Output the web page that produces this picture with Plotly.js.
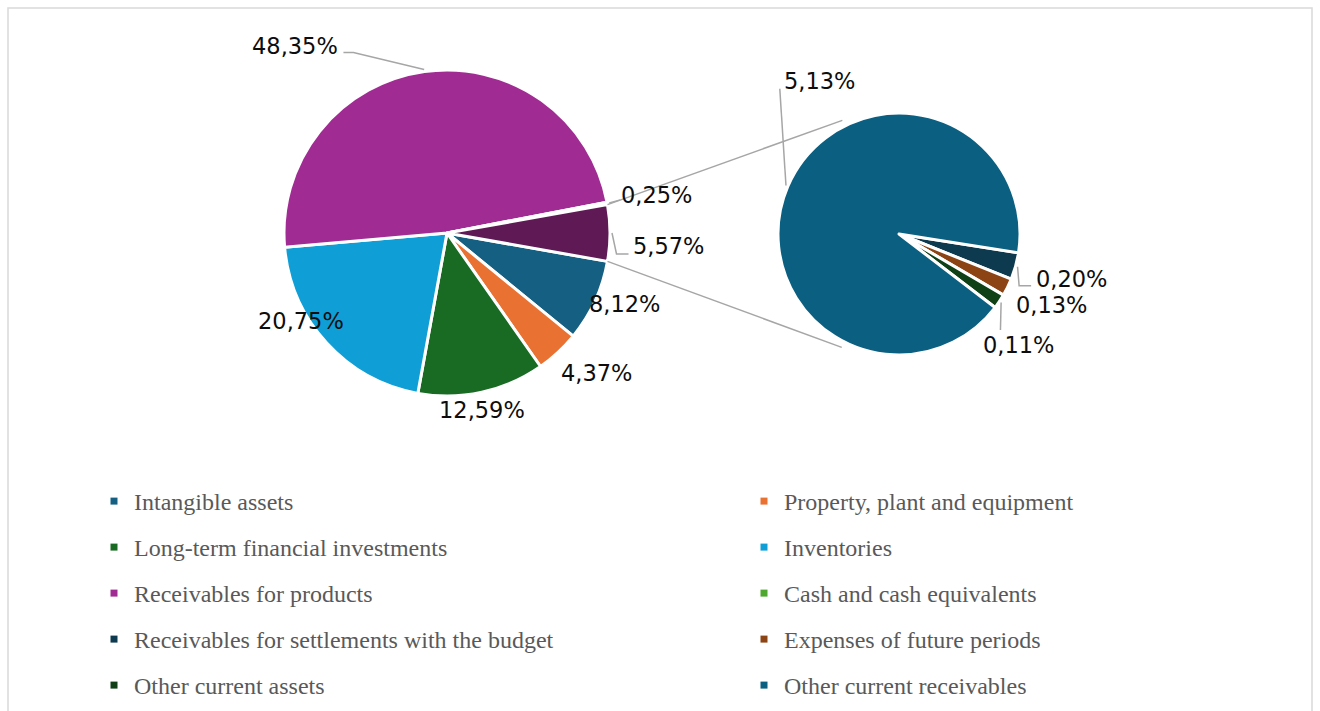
<!DOCTYPE html>
<html><head><meta charset="utf-8">
<script src="https://cdn.plot.ly/plotly-3.0.1.min.js"></script>
<style>html,body{margin:0;padding:0;background:#fff}</style>
</head><body><div id="chart" style="width:1320px;height:711px"></div>
<script>
// ---------- data ----------
const mainLabels = ['Intangible assets','Property, plant and equipment','Long-term financial investments','Inventories','Receivables for products','Cash and cash equivalents','Other'];
const mainValues = [8.12, 4.37, 12.59, 20.75, 48.35, 0.25, 5.57];
const subLabels = ['Receivables for settlements with the budget','Expenses of future periods','Other current assets','Other current receivables'];
const subValues = [0.20, 0.13, 0.11, 5.13];
const legendLabels = ['Intangible assets','Property, plant and equipment','Long-term financial investments','Inventories','Receivables for products','Cash and cash equivalents','Receivables for settlements with the budget','Expenses of future periods','Other current assets','Other current receivables'];

// ---------- styles ----------
const colorMap = {
  'Intangible assets':'#156082',
  'Property, plant and equipment':'#E97132',
  'Long-term financial investments':'#196B24',
  'Inventories':'#0F9ED5',
  'Receivables for products':'#A02B93',
  'Cash and cash equivalents':'#4EA72E',
  'Other':'#5F1A56',
  'Receivables for settlements with the budget':'#0D3A4E',
  'Expenses of future periods':'#8C4414',
  'Other current assets':'#0F4016',
  'Other current receivables':'#0B5F80'
};
const W = 1320, H = 711;
const P1 = {cx:447, cy:233, r:163};
const P2 = {cx:899, cy:234, r:121};
const SUB_START = 99;             // angle where second pie's first slice starts
const CONNECT_ANGLES = [333.5, 206.8]; // where connector lines meet the second pie
const LINE_GREY = '#A6A6A6';
const LABEL_FONT = {family:'DejaVu Sans', size:22.5, color:'#0D0D0D'};
// label offsets (px) from each slice's outer edge at its mid angle, and leader elbows relative to label centre
const mainLabelOff = [[29,3.5],[39,20.5],[0,18],[-26,-22],[-129,-26],[49,-8.5],[58.5,13]];
const mainLeader = [null,null,null,null,[[58,7],[48,7]],[[-36,5]],[[-52,8],[-40,8]]];
const subLabelOff = [[55.5,13],[43.5,18],[19,43.5],[32,-105]];
const subLeader = [[[-52,6.5],[-40,6.5]],null,[[-18,-15]],[[-40,7.5]]];

const fmt = v => v.toFixed(2).replace('.', ',') + '%';
const sum = a => a.reduce((s,v)=>s+v,0);
function dom(p){return {x:[(p.cx-p.r)/W,(p.cx+p.r)/W], y:[1-(p.cy+p.r)/H, 1-(p.cy-p.r)/H]};}
function angles(values, rot){
  const tot = sum(values); let a = rot;
  return values.map(v=>{const s=a; a+=v/tot*360; return {s:s, e:a, m:(s+a)/2};});
}
function pt(p, ang, dr){const t=ang*Math.PI/180; const rr=p.r+(dr||0); return [p.cx+rr*Math.sin(t), p.cy-rr*Math.cos(t)];}

// main pie rotation: "Other" slice centred at 3 o'clock
const oIdx = mainValues.length-1;
const mTot = sum(mainValues);
let rot1 = 90 - (sum(mainValues.slice(0,oIdx)) + mainValues[oIdx]/2)/mTot*360;
while(rot1 < 0) rot1 += 360;
const ang1 = angles(mainValues, rot1);
const ang2 = angles(subValues, SUB_START);

const traces = [
  {type:'pie', labels:mainLabels, values:mainValues, sort:false, direction:'clockwise', rotation:rot1,
   marker:{colors:mainLabels.map(l=>colorMap[l]), line:{color:'#fff', width:3}},
   textinfo:'none', hoverinfo:'label+percent', showlegend:false, domain:dom(P1)},
  {type:'pie', labels:subLabels, values:subValues, sort:false, direction:'clockwise', rotation:SUB_START,
   marker:{colors:subLabels.map(l=>colorMap[l]), line:{color:'#fff', width:3}},
   textinfo:'none', hoverinfo:'label+value', showlegend:false, domain:dom(P2)}
];

const annotations = [], shapes = [];
function addLabels(p, vals, angs, offs, leaders){
  vals.forEach((v,i)=>{
    const e = pt(p, angs[i].m, 0);
    const c = [e[0]+offs[i][0], e[1]+offs[i][1]];
    annotations.push({x:c[0], y:c[1], xref:'x', yref:'y', text:fmt(v), showarrow:false,
      xanchor:'center', yanchor:'middle', font:LABEL_FONT});
    if(leaders[i]){
      const s = pt(p, angs[i].m, 2);
      let path = 'M'+s[0]+','+s[1];
      leaders[i].forEach(q=>{path += ' L'+(c[0]+q[0])+','+(c[1]+q[1]);});
      shapes.push({type:'path', xref:'x', yref:'y', path:path, line:{color:LINE_GREY, width:1.5}});
    }
  });
}
addLabels(P1, mainValues, ang1, mainLabelOff, mainLeader);
addLabels(P2, subValues, ang2, subLabelOff, subLeader);

// connector lines from the "Other" slice to the second pie
const oStart = pt(P1, ang1[oIdx].s, 0), oEnd = pt(P1, ang1[oIdx].e, 0);
const c1 = pt(P2, CONNECT_ANGLES[0], 6), c2 = pt(P2, CONNECT_ANGLES[1], 6);
shapes.push({type:'line', xref:'x', yref:'y', x0:oStart[0], y0:oStart[1], x1:c1[0], y1:c1[1], line:{color:LINE_GREY, width:1.5}});
shapes.push({type:'line', xref:'x', yref:'y', x0:oEnd[0], y0:oEnd[1], x1:c2[0], y1:c2[1], line:{color:LINE_GREY, width:1.5}});
// chart frame
shapes.push({type:'rect', xref:'paper', yref:'paper', x0:8/W, x1:1312/W, y0:-0.05, y1:1-8/H, line:{color:'#D9D9D9', width:1.5}, layer:'below'});

const layout = {
  width:W, height:H, margin:{l:0,r:0,t:0,b:0}, paper_bgcolor:'#fff', plot_bgcolor:'rgba(0,0,0,0)',
  xaxis:{range:[0,W], visible:false, fixedrange:true, autorange:false},
  yaxis:{range:[H,0], visible:false, fixedrange:true, autorange:false},
  annotations:annotations, shapes:shapes
};
// legend: 2 columns x 5 rows, one legend per entry
const LEG_X = [94, 744], LEG_Y0 = 501.5, LEG_DY = 46;
legendLabels.forEach((lab,i)=>{
  const key = i===0 ? 'legend' : 'legend'+(i+1);
  const col = i%2, row = Math.floor(i/2);
  layout[key] = {x:LEG_X[col]/W, y:1-(LEG_Y0+row*LEG_DY)/H, xanchor:'left', yanchor:'middle',
    bgcolor:'rgba(0,0,0,0)', borderwidth:0, itemwidth:30,
    font:{family:'Liberation Serif', size:24, color:'#595959'}};
  traces.push({type:'scatter', x:[null], y:[null], mode:'markers', name:lab, legend:key, showlegend:true,
    marker:{symbol:'square', size:7, color:colorMap[lab]}, hoverinfo:'skip'});
});

Plotly.newPlot('chart', traces, layout, {displayModeBar:false, staticPlot:true});
</script></body></html>
